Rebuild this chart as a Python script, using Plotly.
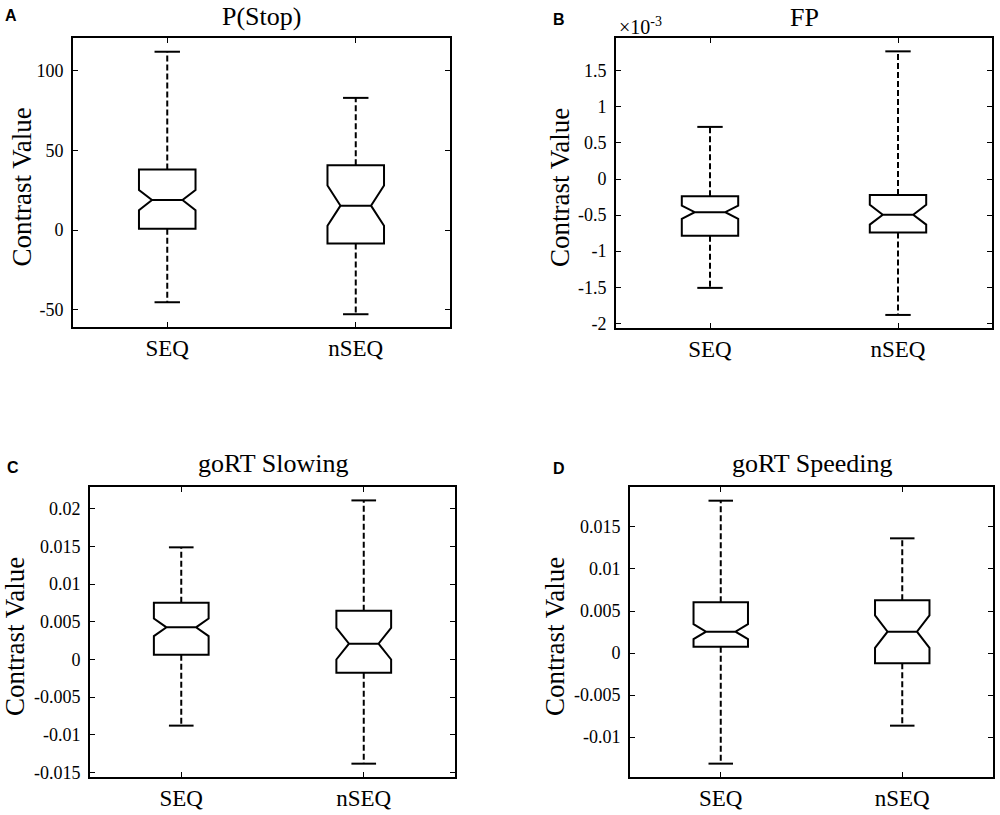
import plotly.graph_objects as go

# ---------------- data ----------------
groups = ["SEQ", "nSEQ"]
group_pos = [1, 2]

# Panel A: P(Stop)
pstop_lower = [-45.2, -52.7]
pstop_q1 = [0.8, -8.4]
pstop_median = [18.8, 15.3]
pstop_q3 = [37.9, 40.6]
pstop_upper = [111.7, 82.8]
pstop_notch = [6.3, 12.6]

# Panel B: FP (values in units of 1e-3)
fp_lower = [-1.509, -1.884]
fp_q1 = [-0.785, -0.742]
fp_median = [-0.460, -0.495]
fp_q3 = [-0.238, -0.222]
fp_upper = [0.722, 1.769]
fp_notch = [0.092, 0.137]

# Panel C: goRT Slowing
slow_lower = [-0.0088, -0.01385]
slow_q1 = [0.00062, -0.00177]
slow_median = [0.00425, 0.00208]
slow_q3 = [0.00752, 0.00646]
slow_upper = [0.01487, 0.0211]
slow_notch = [0.00117, 0.0021]

# Panel D: goRT Speeding
speed_lower = [-0.01317, -0.00865]
speed_q1 = [0.00075, -0.00123]
speed_median = [0.00254, 0.00254]
speed_q3 = [0.00603, 0.00627]
speed_upper = [0.01813, 0.01365]
speed_notch = [0.00089, 0.00194]

titles = ["P(Stop)", "FP", "goRT Slowing", "goRT Speeding"]
panel_letters = ["A", "B", "C", "D"]
y_title = "Contrast Value"

a_ticks = [-50, 0, 50, 100]
a_ticklabels = ["-50", "0", "50", "100"]
b_ticks = [-2, -1.5, -1, -0.5, 0, 0.5, 1, 1.5]
b_ticklabels = ["-2", "-1.5", "-1", "-0.5", "0", "0.5", "1", "1.5"]
c_ticks = [-0.015, -0.01, -0.005, 0, 0.005, 0.01, 0.015, 0.02]
c_ticklabels = ["-0.015", "-0.01", "-0.005", "0", "0.005", "0.01", "0.015", "0.02"]
d_ticks = [-0.01, -0.005, 0, 0.005, 0.01, 0.015]
d_ticklabels = ["-0.01", "-0.005", "0", "0.005", "0.01", "0.015"]
b_exponent = "×10<sup>-3</sup>"

# ---------------- layout / style ----------------
W, H = 1000, 815
SERIF = "Liberation Serif, Times New Roman, serif"
SANS = "Liberation Sans, Arial, sans-serif"
BOX_W = 0.30
CAP_W = 0.135
LW = 2.0

panels = [
    dict(lower=pstop_lower, q1=pstop_q1, med=pstop_median, q3=pstop_q3, upper=pstop_upper,
         notch=pstop_notch, ticks=a_ticks, labels=a_ticklabels, yrange=[-60.7, 120.3],
         px=(73, 450), py=(38, 327), title_y=16.7, ytitle_x=21, letter=(11, 15)),
    dict(lower=fp_lower, q1=fp_q1, med=fp_median, q3=fp_q3, upper=fp_upper,
         notch=fp_notch, ticks=b_ticks, labels=b_ticklabels, yrange=[-2.065, 1.954],
         px=(616, 992), py=(38, 328), title_y=18, ytitle_x=560, letter=(559, 20)),
    dict(lower=slow_lower, q1=slow_q1, med=slow_median, q3=slow_q3, upper=slow_upper,
         notch=slow_notch, ticks=c_ticks, labels=c_ticklabels, yrange=[-0.01562, 0.02288],
         px=(90, 455), py=(487, 777), title_y=463, ytitle_x=15, letter=(13, 467)),
    dict(lower=speed_lower, q1=speed_q1, med=speed_median, q3=speed_q3, upper=speed_upper,
         notch=speed_notch, ticks=d_ticks, labels=d_ticklabels, yrange=[-0.01476, 0.01976],
         px=(630, 993), py=(487, 777), title_y=463, ytitle_x=555, letter=(559, 468)),
]

fig = go.Figure()
annotations = []

for i, p in enumerate(panels):
    n = "" if i == 0 else str(i + 1)
    xa, ya = "x" + n, "y" + n
    # notched boxes
    fig.add_trace(go.Box(
        x=group_pos, q1=p["q1"], median=p["med"], q3=p["q3"],
        lowerfence=p["q1"], upperfence=p["q3"], notchspan=p["notch"],
        notched=True, notchwidth=0.23, width=BOX_W, boxpoints=False,
        fillcolor="rgba(255,255,255,0)", line=dict(color="black", width=LW),
        whiskerwidth=0, xaxis=xa, yaxis=ya, showlegend=False, hoverinfo="skip"))
    # whiskers (dashed) and caps
    for k, xp in enumerate(group_pos):
        for a, b in ((p["q3"][k], p["upper"][k]), (p["q1"][k], p["lower"][k])):
            fig.add_trace(go.Scatter(
                x=[xp, xp], y=[a, b], mode="lines",
                line=dict(color="black", width=LW, dash="6px,3px"),
                xaxis=xa, yaxis=ya, showlegend=False, hoverinfo="skip"))
        for v in (p["upper"][k], p["lower"][k]):
            fig.add_trace(go.Scatter(
                x=[xp - CAP_W / 2, xp + CAP_W / 2], y=[v, v], mode="lines",
                line=dict(color="black", width=LW),
                xaxis=xa, yaxis=ya, showlegend=False, hoverinfo="skip"))

    axis_common = dict(showline=True, linecolor="black", linewidth=1.6, mirror="ticks",
                       ticks="inside", ticklen=5, tickwidth=1.3, tickcolor="black",
                       showgrid=False, zeroline=False, fixedrange=True, automargin=False)
    xdom = [p["px"][0] / W, p["px"][1] / W]
    ydom = [1 - p["py"][1] / H, 1 - p["py"][0] / H]
    fig.update_layout(**{
        "xaxis" + n: dict(axis_common, domain=xdom, range=[0.5, 2.5], tickvals=group_pos,
                          ticktext=groups, anchor=ya, ticklabelstandoff=0,
                          tickfont=dict(family=SERIF, size=23, color="black")),
        "yaxis" + n: dict(axis_common, domain=ydom, range=p["yrange"], tickvals=p["ticks"],
                          ticktext=p["labels"], anchor=xa, ticklabelstandoff=4,
                          tickfont=dict(family=SERIF, size=18, color="black")),
    })
    cx = (p["px"][0] + p["px"][1]) / 2 / W
    annotations.append(dict(text=titles[i], x=cx, y=1 - p["title_y"] / H, xref="paper",
                            yref="paper", xanchor="center", yanchor="middle", showarrow=False,
                            font=dict(family=SERIF, size=26, color="black")))
    cy = 1 - ((p["py"][0] + p["py"][1]) / 2 + 5) / H
    annotations.append(dict(text=y_title, x=p["ytitle_x"] / W, y=cy, xref="paper",
                            yref="paper", xanchor="center", yanchor="middle", textangle=-90,
                            showarrow=False, font=dict(family=SERIF, size=27, color="black")))
    annotations.append(dict(text="<b>" + panel_letters[i] + "</b>", x=p["letter"][0] / W,
                            y=1 - p["letter"][1] / H, xref="paper", yref="paper",
                            xanchor="center", yanchor="middle", showarrow=False,
                            font=dict(family=SANS, size=16, color="black")))

annotations.append(dict(text=b_exponent, x=617 / W, y=1 - 26 / H, xref="paper", yref="paper",
                        xanchor="left", yanchor="middle", showarrow=False,
                        font=dict(family=SERIF, size=20, color="black")))

fig.update_layout(width=W, height=H, margin=dict(l=0, r=0, t=0, b=0, autoexpand=False),
                  paper_bgcolor="white", plot_bgcolor="white", annotations=annotations,
                  showlegend=False, font=dict(family=SERIF, color="black"))

fig.write_html("out.html", config={"displayModeBar": False},
               post_script="document.body.style.margin='0';document.body.style.padding='0';"
                           "document.body.style.overflow='hidden';")
